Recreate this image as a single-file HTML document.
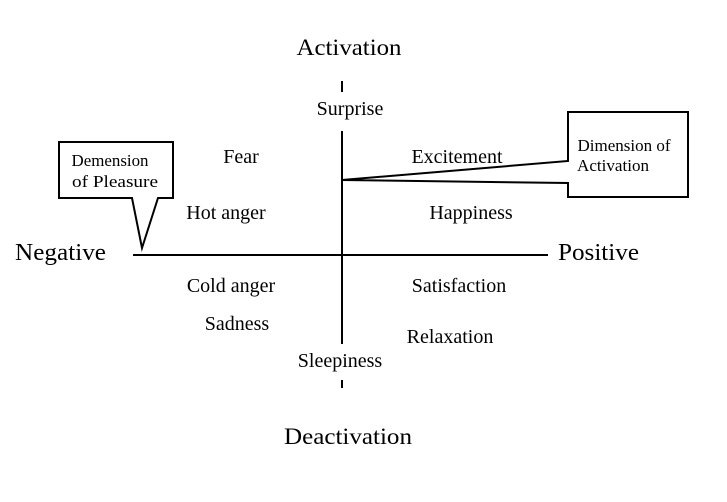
<!DOCTYPE html>
<html><head><style>
body{margin:0;background:#fff;}
svg text{font-family:"Liberation Serif",serif;fill:#000;}
</style></head><body>
<svg width="727" height="497" xmlns="http://www.w3.org/2000/svg">
<g stroke="#000" stroke-width="2" fill="none">
<line x1="342" y1="81" x2="342" y2="92"/>
<line x1="342" y1="131" x2="342" y2="344"/>
<line x1="342" y1="380" x2="342" y2="388"/>
<line x1="133" y1="255" x2="548" y2="255"/>
</g>
<g stroke="#000" stroke-width="2" fill="#fff">
<polygon points="59,142 173,142 173,198 158,198 142,248 132,198 59,198"/>
<polygon points="568,112 688,112 688,197 568,197 568,183 342,180 568,161"/>
</g>
<g font-size="23" text-anchor="middle">
<text x="349" y="55" textLength="105" lengthAdjust="spacingAndGlyphs">Activation</text>
<text x="348" y="444" textLength="128" lengthAdjust="spacingAndGlyphs">Deactivation</text>
</g>
<g font-size="24">
<text x="15" y="260" textLength="91" lengthAdjust="spacingAndGlyphs">Negative</text>
<text x="558" y="260" textLength="81" lengthAdjust="spacingAndGlyphs">Positive</text>
</g>
<g font-size="20" text-anchor="middle">
<text x="350" y="115">Surprise</text>
<text x="241" y="163">Fear</text>
<text x="457" y="163">Excitement</text>
<text x="226" y="219">Hot anger</text>
<text x="471" y="219">Happiness</text>
<text x="231" y="292">Cold anger</text>
<text x="459" y="292">Satisfaction</text>
<text x="237" y="330">Sadness</text>
<text x="450" y="343">Relaxation</text>
<text x="340" y="367">Sleepiness</text>
</g>
<g font-size="17" text-anchor="middle">
<text x="110" y="166" textLength="77" lengthAdjust="spacingAndGlyphs">Demension</text>
<text x="115" y="187" textLength="86" lengthAdjust="spacingAndGlyphs">of Pleasure</text>
<text x="624" y="151" textLength="93" lengthAdjust="spacingAndGlyphs">Dimension of</text>
<text x="613" y="171" textLength="72" lengthAdjust="spacingAndGlyphs">Activation</text>
</g>
</svg>
</body></html>
